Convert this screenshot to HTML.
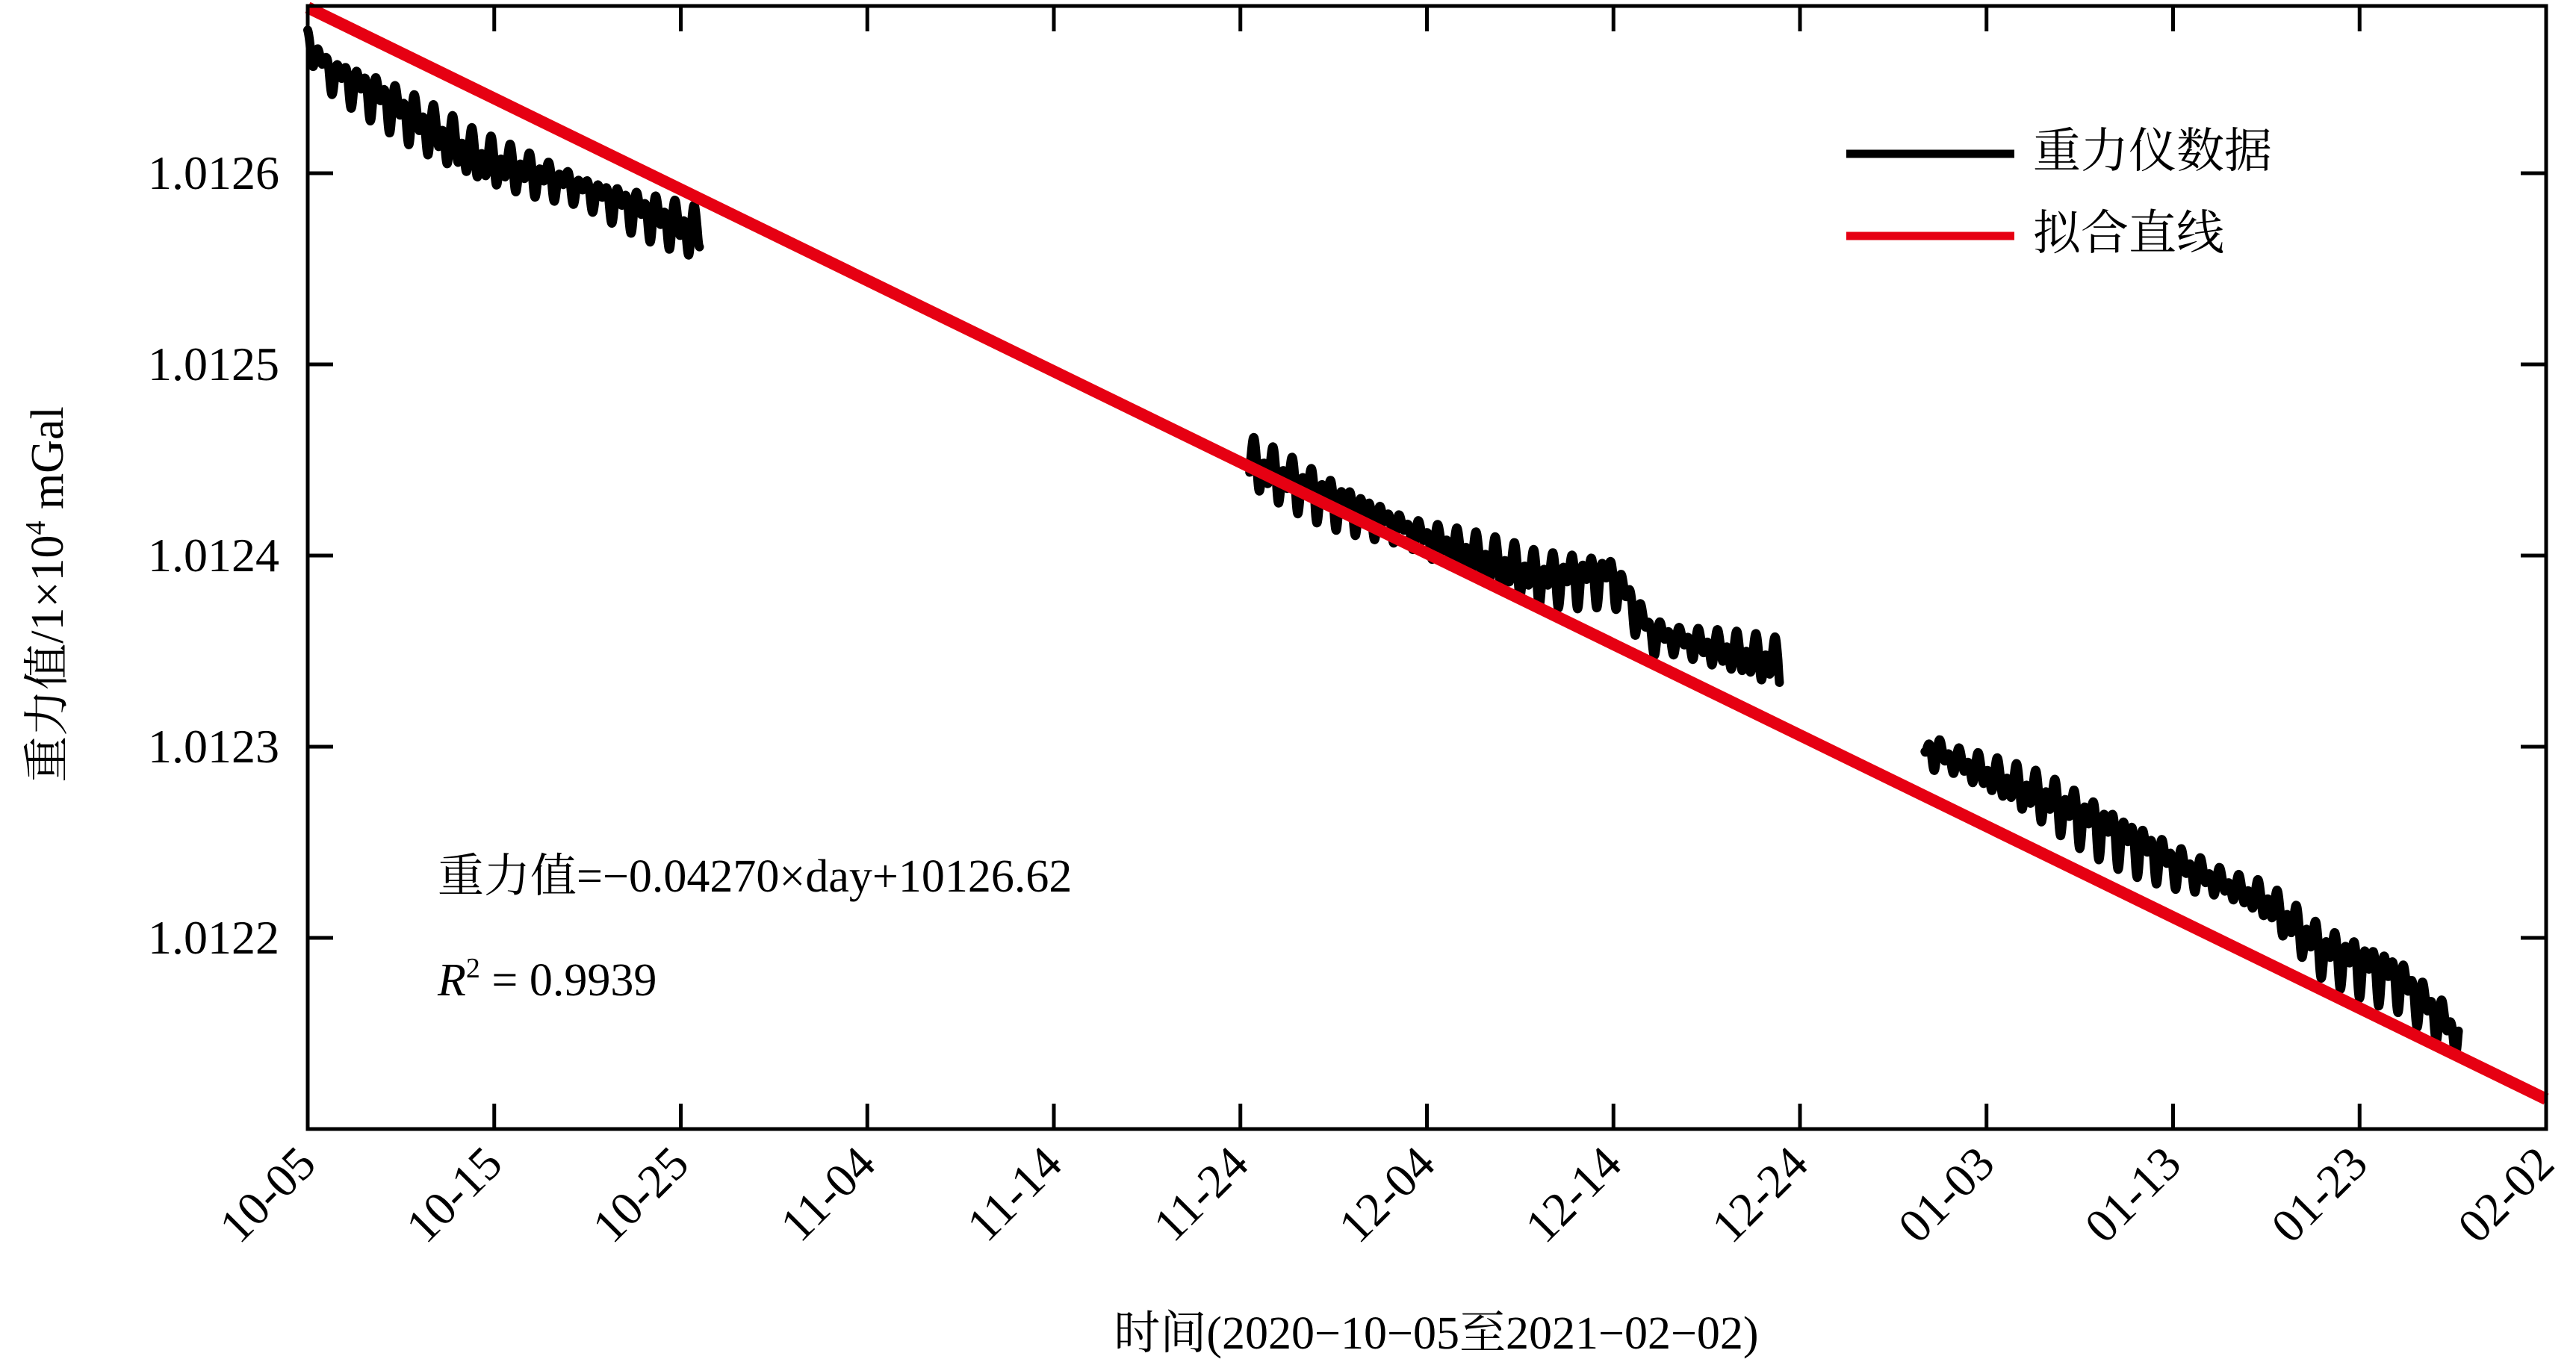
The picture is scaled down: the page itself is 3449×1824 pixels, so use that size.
<!DOCTYPE html>
<html><head><meta charset="utf-8"><style>
html,body{margin:0;padding:0;background:#fff;}
svg{display:block;}
text{font-family:"Liberation Serif","Noto Serif CJK SC",serif;fill:#000;}
</style></head><body>
<svg id="s" width="3449" height="1824" viewBox="0 0 3449 1824" xmlns="http://www.w3.org/2000/svg">
<rect width="3449" height="1824" fill="#fff"/>
<g id="data"></g>
<line x1="412" y1="10" x2="3409" y2="1472" stroke="#e60012" stroke-width="16"/>
<rect x="412" y="8" width="2997" height="1504" fill="none" stroke="#000" stroke-width="5"/>
<g id="ticks" stroke="#000" stroke-width="5"></g>
<g id="labels"></g>
<g font-size="64">
<text x="374" y="253" text-anchor="end">1.0126</text>
<text x="374" y="509" text-anchor="end">1.0125</text>
<text x="374" y="765" text-anchor="end">1.0124</text>
<text x="374" y="1021" text-anchor="end">1.0123</text>
<text x="374" y="1277" text-anchor="end">1.0122</text>
</g>
<text transform="translate(84,796) rotate(-90)" text-anchor="middle" font-size="62">重力值/1×10<tspan dy="-24" font-size="38">4</tspan><tspan dy="24"> mGal</tspan></text>
<text x="1923" y="1806" text-anchor="middle" font-size="62">时间(2020−10−05至2021−02−02)</text>
<line x1="2472" y1="206" x2="2697" y2="206" stroke="#000" stroke-width="11"/>
<text x="2722" y="224" font-size="64">重力仪数据</text>
<line x1="2472" y1="316" x2="2697" y2="316" stroke="#e60012" stroke-width="11"/>
<text x="2722" y="334" font-size="64">拟合直线</text>
<text x="586" y="1194" font-size="62">重力值=−0.04270×day+10126.62</text>
<text x="586" y="1333" font-size="62"><tspan font-style="italic">R</tspan><tspan dy="-24" font-size="38">2</tspan><tspan dy="24"> = 0.9939</tspan></text>
</svg>
<script>
var X0=412,PX=24.975,YB=1512,V0=1.0121,PY=256e4;
function xp(d){return X0+d*PX;}function yp(v){return YB-(v-V0)*PY;}
var tk=document.getElementById('ticks'),lb=document.getElementById('labels'),h='',l='';
var names=['10-05','10-15','10-25','11-04','11-14','11-24','12-04','12-14','12-24','01-03','01-13','01-23','02-02'];
for(var i=0;i<13;i++){var x=xp(i*10);
 if(i>0&&i<12){h+='<line x1="'+x+'" y1="1512" x2="'+x+'" y2="1478"/><line x1="'+x+'" y1="8" x2="'+x+'" y2="42"/>';}
 l+='<text transform="translate('+(x+14)+',1562) rotate(-45)" text-anchor="end" font-size="64">'+names[i]+'</text>';}
[1.0122,1.0123,1.0124,1.0125,1.0126].forEach(function(v){var y=yp(v);
 h+='<line x1="412" y1="'+y+'" x2="446" y2="'+y+'"/><line x1="3409" y1="'+y+'" x2="3375" y2="'+y+'"/>';});
tk.innerHTML=h;lb.innerHTML=l;
function interp(pts,d){for(var i=0;i<pts.length-1;i++){if(d<=pts[i+1][0]){var t=(d-pts[i][0])/(pts[i+1][0]-pts[i][0]);return pts[i][1]+t*(pts[i+1][1]-pts[i][1]);}}return pts[pts.length-1][1];}
var segs=[
 [[0,1.01267],[1,1.012655],[4,1.01264],[9,1.01261],[14,1.012595],[21,1.01257]],
 [[50.5,1.01245],[55,1.01243],[60,1.01241],[66,1.01239],[70,1.01239],[72,1.01236],[78.9,1.012345]],
 [[86.7,1.01230],[93,1.012275],[100,1.01224],[105,1.01222],[108,1.012195],[112,1.01218],[115.3,1.01215]]];
var g='';
segs.forEach(function(p){var d0=p[0][0],d1=p[p.length-1][0],s='';
 for(var d=d0;d<=d1;d+=0.02){
  var amp=0.000013*(0.5+0.5*Math.abs(Math.sin(Math.PI*d/14.7)));
  var c1=Math.cos(2*Math.PI*d*1.932),c2=Math.cos(2*Math.PI*d*1.0027+1.1);
  var w=0.55*c1+0.45*c2; if(w<0)w*=1.5;
  var v=interp(p,d)+amp*w;
  s+=(s?'L':'M')+xp(d).toFixed(1)+' '+yp(v).toFixed(1);}
 g+='<path d="'+s+'" fill="none" stroke="#000" stroke-width="12" stroke-linejoin="round" stroke-linecap="round"/>';});
document.getElementById('data').innerHTML=g;
</script>
</body></html>
